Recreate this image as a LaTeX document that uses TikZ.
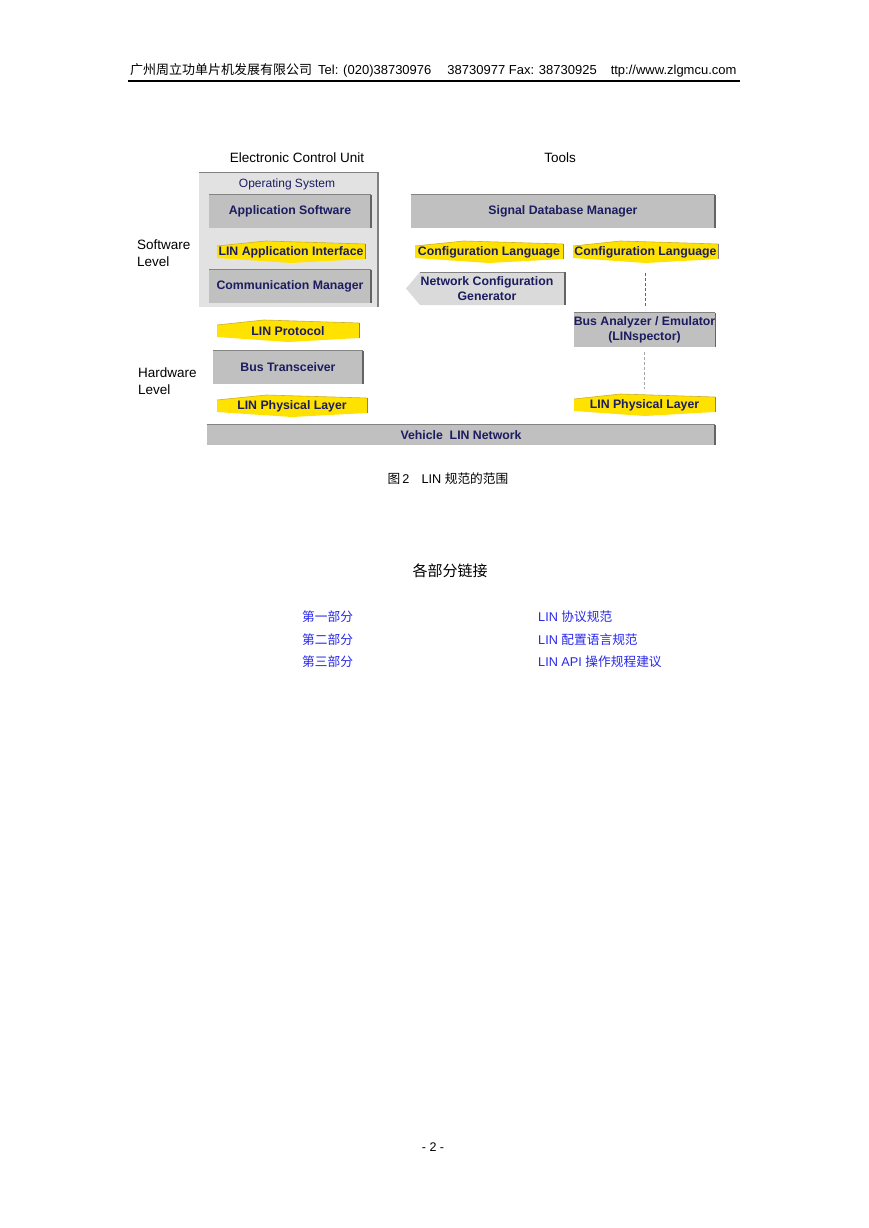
\documentclass[tikz,border=0pt]{standalone}
\usepackage{fontspec}
\setmainfont{Liberation Sans}
\newfontfamily\cjk{Noto Sans CJK SC}
\usepackage{tikz}
\usetikzlibrary{calc}

\definecolor{navytext}{RGB}{28,28,96}
\definecolor{boxgray}{RGB}{192,192,192}
\definecolor{edgegray}{RGB}{100,100,100}
\definecolor{osgray}{RGB}{226,226,226}
\definecolor{genfill}{RGB}{218,218,218}
\definecolor{bandyellow}{RGB}{255,226,0}
\definecolor{bandtop}{RGB}{205,175,40}
\definecolor{linkblue}{RGB}{40,40,235}

% yellow interface band: name, left x, right x, centre y, text
\newcommand{\linband}[5]{%
  \fill[bandyellow] (#2,#4-6) -- ({#2+0.33*(#3-#2)},#4-11) -- (#3,#4-8)
    -- (#3,#4+7) -- ({#2+0.5*(#3-#2)},#4+11) -- (#2,#4+6) -- cycle;
  \draw[bandtop, line width=0.6pt] (#2,#4-6) -- ({#2+0.33*(#3-#2)},#4-11) -- (#3,#4-8);
  \draw[gray, line width=0.9pt] (#3,#4-8) -- (#3,#4+7);
  \node[boxtext, minimum height=22pt] (#1) at ({(#2+#3)/2},#4) {#5};}

\begin{document}
\begin{tikzpicture}[x=1pt, y=-1pt,
  boxtext/.style={font=\fontsize{12.3}{15}\selectfont\bfseries, text=navytext, inner sep=0pt, align=center},
  graybox/.style={boxtext, fill=boxgray},
  plain/.style={font=\fontsize{13.5}{17}\selectfont, inner sep=0pt, align=left},
  cjktext/.style={font=\fontsize{12.7}{15}\selectfont, inner sep=0pt},
  linktext/.style={cjktext, text=linkblue, anchor=west}]
  \fill[white] (0,0) rectangle (868,1228);
  \useasboundingbox (0,0) rectangle (868,1228);

  % page header
  \node[font=\fontsize{13}{15}\selectfont, inner sep=0pt, anchor=west] (head) at (130,70)
    {{\cjk 广州周立功单片机发展有限公司}\hspace{6pt}Tel: (020)38730976\hspace{16pt}38730977 Fax: 38730925\hspace{14pt}ttp://www.zlgmcu.com};
  \draw[line width=1.3pt] (128,81) -- (740,81);

  % column titles and level labels
  \node[plain] (ecu) at (297,158) {Electronic Control Unit};
  \node[plain] (tools) at (560,158) {Tools};
  \node[plain, anchor=west] (swlevel) at (137,253.5) {Software\\Level};
  \node[plain, anchor=west] (hwlevel) at (138,381) {Hardware\\Level};

  % operating system frame
  \fill[osgray] (199,172) rectangle (378,307);
  \draw[gray, line width=0.8pt] (199,172) -- (378,172);
  \draw[gray, line width=1.5pt] (378,172) -- (378,307);
  \node[plain, font=\fontsize{12}{14}\selectfont, text=navytext] (os) at (287,184) {Operating System};

  % gray boxes
  \node[graybox, minimum width=162pt, minimum height=33pt] (appsw) at (290,211.5) {Application Software};
  \node[graybox, minimum width=162pt, minimum height=33pt] (commmgr) at (290,286.5) {Communication Manager};
  \node[graybox, minimum width=304pt, minimum height=33pt] (sigdb) at (563,211.5) {Signal Database Manager};
  \node[graybox, minimum width=150pt, minimum height=33pt] (bustrans) at (288,367.5) {Bus Transceiver};
  \node[graybox, minimum width=141pt, minimum height=34pt] (busan) at (644.5,330) {Bus Analyzer / Emulator\\(LINspector)};
  \node[graybox, minimum width=508pt, minimum height=20pt] (vehicle) at (461,435) {Vehicle\ \ LIN Network};
  \foreach \b in {appsw,commmgr,sigdb,bustrans,busan,vehicle} {
    \draw[edgegray!80, line width=0.8pt] (\b.north west) -- (\b.north east);
    \draw[edgegray, line width=1.5pt] (\b.north east) -- (\b.south east);
  }

  % network configuration generator (arrow box)
  \fill[genfill] (420,272) -- (565,272) -- (565,305) -- (420,305) -- (406,288.5) -- cycle;
  \draw[edgegray!80, line width=0.8pt] (420,272) -- (565,272);
  \draw[edgegray, line width=1.5pt] (565,272) -- (565,305);
  \node[boxtext] (netgen) at (487,289) {Network Configuration\\Generator};

  % yellow interface bands
  \linband{appif}{217}{365}{252}{LIN Application Interface}
  \linband{cfgA}{415}{563}{252}{Configuration Language}
  \linband{cfgB}{573}{718}{252}{Configuration Language}
  \linband{proto}{217}{359}{331}{LIN Protocol}
  \linband{physA}{217}{367}{406}{LIN Physical Layer}
  \linband{physB}{574}{715}{405}{LIN Physical Layer}

  % dashed links
  \draw[edgegray, line width=1.1pt, dash pattern=on 3pt off 2pt] ([yshift=-10pt]cfgB.south) -- ([yshift=6pt]cfgB.south |- busan.north);
  \draw[gray!70, line width=0.6pt, dash pattern=on 3pt off 2pt] ([yshift=-5pt]busan.south) -- ([yshift=5pt]busan.south |- physB.north);

  % caption and links
  \node[cjktext] (caption) at (448,479) {{\cjk 图}\,2\hspace{12pt}LIN {\cjk 规范的范围}};
  \node[cjktext, font=\cjk\fontsize{15}{18}\selectfont] (parts) at (450,571) {各部分链接};
  \node[linktext] (partA) at (302,617) {\cjk 第一部分};
  \node[linktext] (partB) at (302,640) {\cjk 第二部分};
  \node[linktext] (partC) at (302,662) {\cjk 第三部分};
  \node[linktext] (specA) at (538,617) {LIN {\cjk 协议规范}};
  \node[linktext] (specB) at (538,640) {LIN {\cjk 配置语言规范}};
  \node[linktext] (specC) at (538,662) {LIN API {\cjk 操作规程建议}};

  % page number
  \node[font=\fontsize{12.5}{15}\selectfont, inner sep=0pt] (pagenum) at (433,1147) {- 2 -};
\end{tikzpicture}
\end{document}
